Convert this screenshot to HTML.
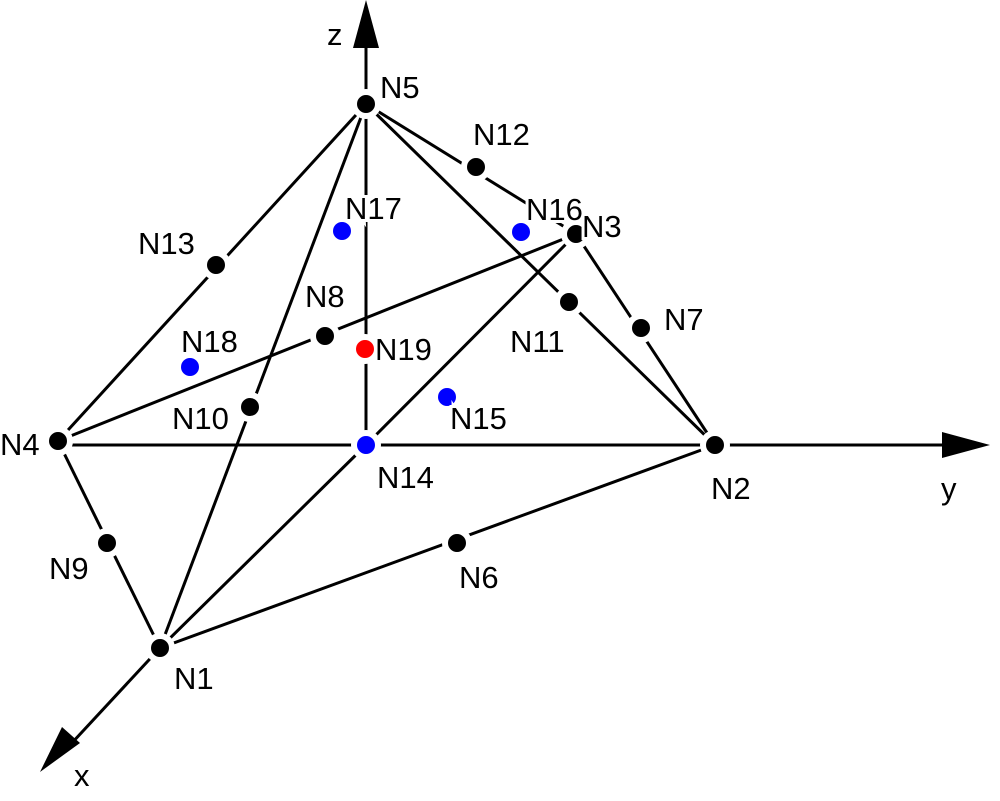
<!DOCTYPE html>
<html><head><meta charset="utf-8"><style>html,body{margin:0;padding:0;background:#fff}svg{display:block}</style></head><body>
<svg width="1000" height="801" viewBox="0 0 1000 801" xmlns="http://www.w3.org/2000/svg">
<g stroke="#000" stroke-width="3" fill="none">
<line x1="366" y1="104" x2="366" y2="40"/>
<line x1="715" y1="445" x2="950" y2="445"/>
<line x1="160" y1="648" x2="70" y2="745"/>
<line x1="366" y1="104" x2="58" y2="441"/>
<line x1="366" y1="104" x2="160" y2="648"/>
<line x1="366" y1="104" x2="366" y2="445"/>
<line x1="366" y1="104" x2="576" y2="234"/>
<line x1="366" y1="104" x2="715" y2="445"/>
<line x1="576" y1="234" x2="715" y2="445"/>
<line x1="58" y1="441" x2="576" y2="234"/>
<line x1="366" y1="445" x2="576" y2="234"/>
<line x1="58" y1="445" x2="715" y2="445"/>
<line x1="58" y1="441" x2="160" y2="648"/>
<line x1="160" y1="648" x2="715" y2="445"/>
<line x1="160" y1="648" x2="366" y2="445"/>
</g>
<polygon points="366,0 353,48 379,48" fill="#000"/>
<polygon points="990,445 942,432 942,458" fill="#000"/>
<polygon points="40,772 62,727 80,743" fill="#000"/>
<g stroke="#fff" stroke-width="6">
<circle cx="366" cy="104" r="12" fill="#000"/>
<circle cx="576" cy="234" r="12" fill="#000"/>
<circle cx="715" cy="445" r="12" fill="#000"/>
<circle cx="58" cy="441" r="12" fill="#000"/>
<circle cx="160" cy="648" r="12" fill="#000"/>
<circle cx="366" cy="445" r="12" fill="#00f"/>
<circle cx="476" cy="167" r="12" fill="#000"/>
<circle cx="569" cy="302" r="12" fill="#000"/>
<circle cx="641" cy="328" r="12" fill="#000"/>
<circle cx="216" cy="265" r="12" fill="#000"/>
<circle cx="325" cy="336" r="12" fill="#000"/>
<circle cx="365" cy="349" r="12" fill="#f00"/>
<circle cx="250" cy="407" r="12" fill="#000"/>
<circle cx="107" cy="543" r="12" fill="#000"/>
<circle cx="457" cy="543" r="12" fill="#000"/>
</g>
<g stroke="none">
<circle cx="521" cy="232" r="9" fill="#00f"/>
<circle cx="342" cy="231" r="9" fill="#00f"/>
<circle cx="190" cy="367" r="9" fill="#00f"/>
<circle cx="447" cy="397" r="9" fill="#00f"/>
</g>
<g font-family="Liberation Sans, sans-serif" font-size="31" fill="#000" stroke="#fff" stroke-width="6" paint-order="stroke">
<text x="327" y="45">z</text>
<text x="380" y="98">N5</text>
<text x="473" y="145">N12</text>
<text x="526" y="220">N16</text>
<text x="582" y="237">N3</text>
<text x="345" y="219">N17</text>
<text x="138" y="254">N13</text>
<text x="305" y="307">N8</text>
<text x="664" y="330">N7</text>
<text x="510" y="352">N11</text>
<text x="181" y="352">N18</text>
<text x="375" y="360">N19</text>
<text x="172" y="429">N10</text>
<text x="450" y="429">N15</text>
<text x="0" y="455">N4</text>
<text x="377" y="488">N14</text>
<text x="711" y="499">N2</text>
<text x="941" y="499">y</text>
<text x="49" y="579">N9</text>
<text x="459" y="588">N6</text>
<text x="174" y="689">N1</text>
<text x="74" y="786">x</text>
</g>
</svg>
</body></html>
